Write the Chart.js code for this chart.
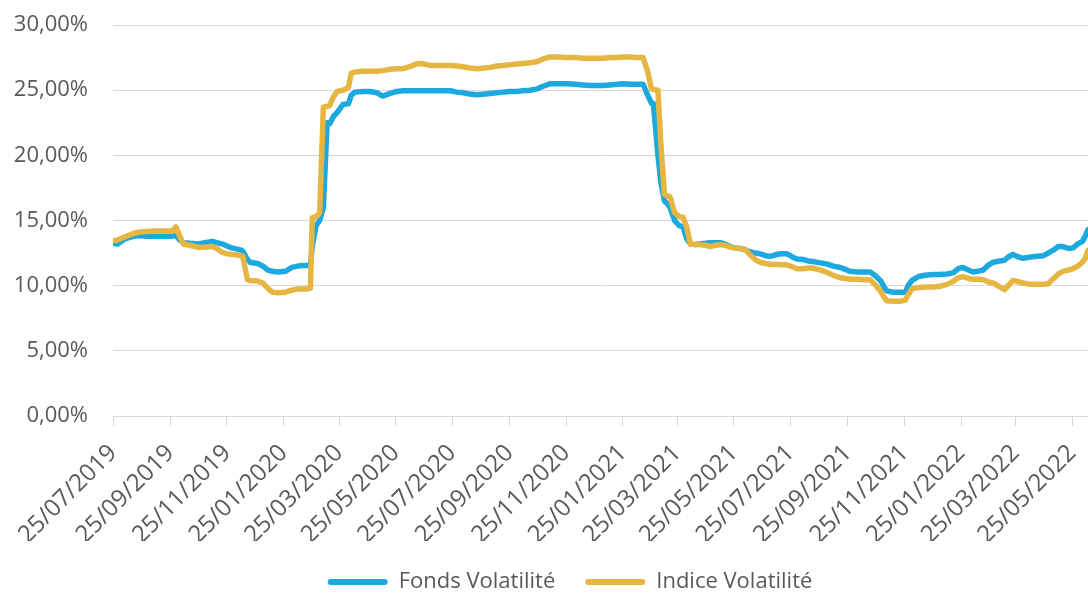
<!DOCTYPE html>
<html>
<head>
<meta charset="utf-8">
<script src="https://cdn.jsdelivr.net/npm/chart.js@4/dist/chart.umd.min.js"></script>
<style>
  html, body { margin: 0; padding: 0; background: #ffffff; }
  #wrap { width: 1088px; height: 594px; }
</style>
</head>
<body>
<div id="wrap"><canvas id="c" width="1088" height="594"></canvas></div>
<script>
// ---- Data ----
const dates = [
  '25/07/2019','30/07/2019','07/08/2019','14/08/2019','21/08/2019','30/08/2019','08/09/2019','19/09/2019','27/09/2019','01/10/2019',
  '05/10/2019','09/10/2019','16/10/2019','25/10/2019','01/11/2019','09/11/2019','14/11/2019','20/11/2019','25/11/2019','30/11/2019',
  '06/12/2019','11/12/2019','12/12/2019','17/12/2019','20/12/2019','28/12/2019','03/01/2020','08/01/2020','13/01/2020','19/01/2020',
  '27/01/2020','03/02/2020','09/02/2020','14/02/2020','19/02/2020','23/02/2020','25/02/2020','29/02/2020','02/03/2020','04/03/2020',
  '08/03/2020','12/03/2020','15/03/2020','19/03/2020','23/03/2020','29/03/2020','04/04/2020','07/04/2020','11/04/2020','20/04/2020',
  '27/04/2020','05/05/2020','11/05/2020','19/05/2020','26/05/2020','02/06/2020','09/06/2020','16/06/2020','22/06/2020','01/07/2020',
  '12/07/2020','23/07/2020','30/07/2020','06/08/2020','13/08/2020','21/08/2020','29/08/2020','04/09/2020','11/09/2020','18/09/2020',
  '25/09/2020','03/10/2020','09/10/2020','17/10/2020','25/10/2020','31/10/2020','08/11/2020','15/11/2020','26/11/2020','05/12/2020',
  '13/12/2020','21/12/2020','28/12/2020','04/01/2021','11/01/2021','19/01/2021','25/01/2021','02/02/2021','09/02/2021','16/02/2021',
  '21/02/2021','25/02/2021','27/02/2021','04/03/2021','07/03/2021','11/03/2021','14/03/2021','17/03/2021','22/03/2021','27/03/2021',
  '31/03/2021','04/04/2021','08/04/2021','13/04/2021','18/04/2021','24/04/2021','29/04/2021','05/05/2021','10/05/2021','15/05/2021',
  '21/05/2021','26/05/2021','01/06/2021','06/06/2021','11/06/2021','17/06/2021','22/06/2021','28/06/2021','03/07/2021','08/07/2021',
  '14/07/2021','21/07/2021','27/07/2021','01/08/2021','08/08/2021','13/08/2021','18/08/2021','26/08/2021','03/09/2021','09/09/2021',
  '17/09/2021','22/09/2021','27/09/2021','05/10/2021','12/10/2021','19/10/2021','24/10/2021','30/10/2021','03/11/2021','06/11/2021',
  '13/11/2021','20/11/2021','26/11/2021','29/11/2021','03/12/2021','10/12/2021','17/12/2021','26/12/2021','02/01/2022','10/01/2022',
  '17/01/2022','22/01/2022','27/01/2022','02/02/2022','07/02/2022','12/02/2022','18/02/2022','23/02/2022','01/03/2022','08/03/2022',
  '13/03/2022','17/03/2022','22/03/2022','28/03/2022','02/04/2022','10/04/2022','17/04/2022','24/04/2022','29/04/2022','04/05/2022',
  '10/05/2022','15/05/2022','21/05/2022','26/05/2022','31/05/2022','05/06/2022','08/06/2022','11/06/2022'
];
const fondsVolatilite = [
  13.25,13.2,13.6,13.75,13.85,13.8,13.8,13.8,13.8,13.85,
  13.5,13.3,13.25,13.2,13.3,13.4,13.3,13.2,13.05,12.9,
  12.8,12.7,12.65,12.0,11.8,11.7,11.5,11.2,11.1,11.05,
  11.1,11.4,11.5,11.55,11.55,11.6,13.0,14.6,14.8,15.0,
  16.0,22.5,22.45,23.0,23.3,23.9,23.95,24.6,24.85,24.9,
  24.9,24.8,24.55,24.75,24.9,24.95,24.95,24.95,24.95,24.95,
  24.95,24.95,24.85,24.8,24.7,24.65,24.7,24.75,24.8,24.85,
  24.9,24.9,24.95,25.0,25.1,25.3,25.5,25.5,25.5,25.45,
  25.4,25.35,25.35,25.35,25.4,25.45,25.5,25.45,25.45,25.45,
  24.6,24.0,24.0,20.0,18.0,16.5,16.3,16.0,15.0,14.6,
  14.5,13.6,13.2,13.15,13.2,13.25,13.3,13.3,13.3,13.2,
  13.0,12.9,12.85,12.75,12.6,12.5,12.45,12.3,12.25,12.35,
  12.45,12.45,12.2,12.05,12.0,11.9,11.85,11.75,11.65,11.5,
  11.4,11.25,11.1,11.05,11.05,11.05,10.8,10.4,9.9,9.6,
  9.5,9.5,9.5,10.0,10.4,10.7,10.8,10.85,10.85,10.9,
  11.0,11.3,11.4,11.2,11.05,11.1,11.2,11.55,11.8,11.9,
  11.95,12.2,12.4,12.2,12.1,12.2,12.25,12.3,12.5,12.7,
  13.0,13.0,12.85,12.9,13.2,13.4,13.8,14.3
];
const indiceVolatilite = [
  13.45,13.5,13.75,13.95,14.1,14.15,14.2,14.2,14.2,14.5,
  13.8,13.2,13.1,12.95,12.95,13.0,12.85,12.55,12.45,12.4,
  12.35,12.3,12.25,10.45,10.4,10.35,10.2,9.8,9.5,9.45,
  9.5,9.65,9.75,9.75,9.75,9.8,15.2,15.3,15.4,15.6,
  23.7,23.75,23.85,24.5,24.9,25.0,25.2,26.3,26.4,26.45,
  26.45,26.45,26.5,26.6,26.65,26.65,26.8,27.0,27.05,26.9,
  26.9,26.9,26.85,26.8,26.7,26.65,26.7,26.75,26.85,26.9,
  26.95,27.0,27.05,27.1,27.2,27.4,27.55,27.55,27.5,27.5,
  27.45,27.45,27.45,27.45,27.5,27.5,27.55,27.55,27.5,27.5,
  26.4,25.1,25.05,25.0,21.0,17.0,16.9,16.8,15.6,15.3,
  15.25,14.5,13.2,13.15,13.15,13.1,13.0,13.1,13.15,13.1,
  12.95,12.9,12.85,12.8,12.4,12.0,11.8,11.7,11.65,11.65,
  11.6,11.6,11.45,11.3,11.3,11.35,11.35,11.2,11.0,10.8,
  10.6,10.55,10.5,10.5,10.45,10.45,10.1,9.6,9.1,8.85,
  8.8,8.8,8.9,9.3,9.75,9.85,9.9,9.9,9.95,10.1,
  10.35,10.6,10.7,10.55,10.5,10.5,10.45,10.3,10.2,9.9,
  9.7,10.0,10.4,10.3,10.2,10.1,10.1,10.1,10.15,10.5,
  10.9,11.1,11.2,11.3,11.5,11.8,12.1,12.7
];
const tickLabels = [
  '25/07/2019','25/09/2019','25/11/2019','25/01/2020','25/03/2020','25/05/2020',
  '25/07/2020','25/09/2020','25/11/2020','25/01/2021','25/03/2021','25/05/2021',
  '25/07/2021','25/09/2021','25/11/2021','25/01/2022','25/03/2022','25/05/2022'
];
const yTicks = [0, 5, 10, 15, 20, 25, 30];
const seriesNames = ['Fonds Volatilité', 'Indice Volatilité'];

// ---- helpers ----
const ORIGIN = Date.UTC(2019, 6, 25);
function toDay(s) {
  const p = s.split('/').map(Number);
  return Math.round((Date.UTC(p[2], p[1] - 1, p[0]) - ORIGIN) / 86400000);
}
const xs = dates.map(toDay);
const tickDays = tickLabels.map(toDay);
const pts = arr => arr.map((v, i) => ({ x: xs[i], y: v }));

const BLUE = '#1CA9E0';
const GOLD = '#E5B742';
const GRID = '#d9d9d9';
const TXT = '#595959';
const FONT = "'Open Sans', 'DejaVu Sans', sans-serif";

Chart.defaults.font.family = FONT;
Chart.defaults.color = TXT;

const legendShift = {
  id: 'legendShift',
  afterLayout(chart) {
    const l = chart.legend;
    if (l) { l.left += 26; l.right += 26; }
  }
};

new Chart(document.getElementById('c'), {
  type: 'line',
  data: {
    datasets: [
      {
        label: seriesNames[0], data: pts(fondsVolatilite),
        borderColor: BLUE, backgroundColor: BLUE, borderWidth: 5.5,
        pointRadius: 0, tension: 0, borderJoinStyle: 'round', borderCapStyle: 'round',
        order: 1
      },
      {
        label: seriesNames[1], data: pts(indiceVolatilite),
        borderColor: GOLD, backgroundColor: GOLD, borderWidth: 5.5,
        pointRadius: 0, tension: 0, borderJoinStyle: 'round', borderCapStyle: 'round',
        order: 0
      }
    ]
  },
  options: {
    responsive: false,
    animation: false,
    events: [],
    layout: { padding: { top: 25, right: 0, bottom: -9, left: 0 } },
    scales: {
      x: {
        type: 'linear',
        min: 0,
        max: xs[xs.length - 1],
        afterBuildTicks: s => { s.ticks = tickDays.map(v => ({ value: v })); },
        afterFit: s => { s.height = 125; s.paddingLeft = 0; s.paddingRight = 0; },
        ticks: {
          autoSkip: false, minRotation: 45, maxRotation: 45, padding: 13,
          font: { size: 24 }, color: TXT,
          callback: (v, i) => tickLabels[i]
        },
        grid: { display: true, drawOnChartArea: false, drawTicks: true, tickLength: 10, color: GRID, lineWidth: 1 },
        border: { display: true, color: GRID, width: 1 }
      },
      y: {
        min: 0, max: 30,
        afterBuildTicks: s => { s.ticks = yTicks.map(v => ({ value: v })); },
        afterFit: s => { s.width = 113; s.paddingTop = 0; s.paddingBottom = 0; },
        ticks: {
          padding: 25, font: { size: 22 }, color: TXT,
          callback: v => v.toFixed(2).replace('.', ',') + '%'
        },
        grid: { color: GRID, lineWidth: 1, drawTicks: false },
        border: { display: false }
      }
    },
    plugins: {
      legend: {
        position: 'bottom',
        labels: {
          boxWidth: 60, boxHeight: 6, padding: 30,
          useBorderRadius: true, borderRadius: 3,
          font: { size: 22 }, color: TXT,
          sort: (a, b) => a.datasetIndex - b.datasetIndex,
          generateLabels: chart => Chart.defaults.plugins.legend.labels.generateLabels(chart)
            .map(l => Object.assign(l, { lineWidth: 0 }))
        }
      },
      tooltip: { enabled: false }
    }
  },
  plugins: [legendShift]
});
</script>
</body>
</html>
